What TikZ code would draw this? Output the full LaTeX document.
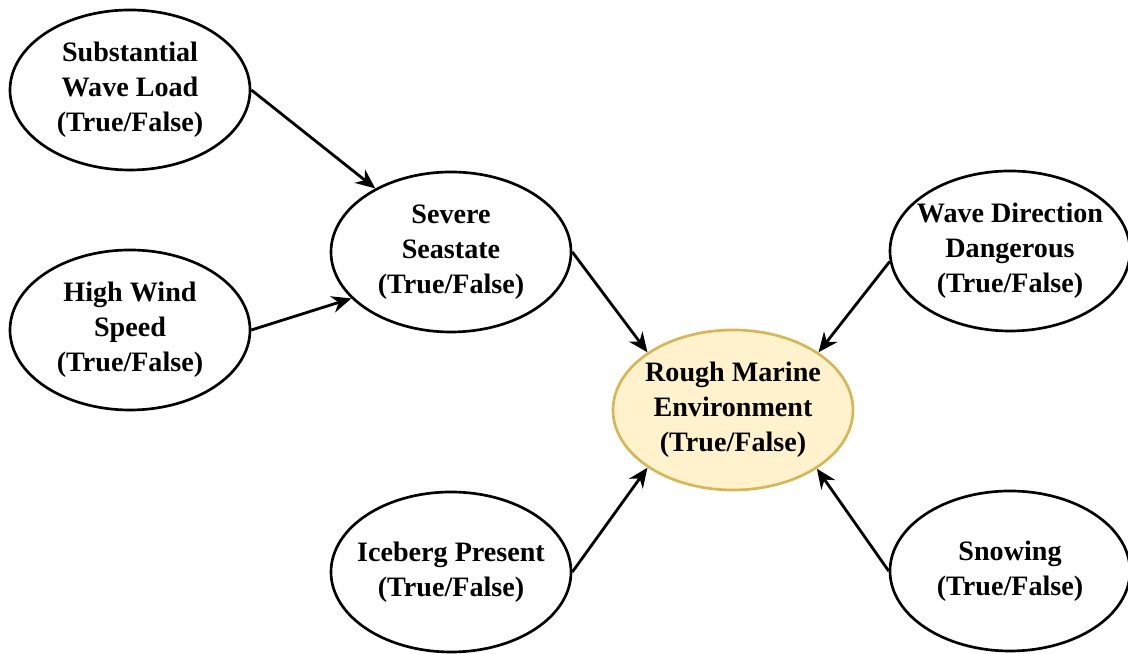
\documentclass[tikz,border=0pt]{standalone}
\usepackage{fontspec}
\setmainfont{Liberation Serif}
\usetikzlibrary{shapes.geometric,arrows.meta}

\definecolor{noteFill}{HTML}{FFF2CC}
\definecolor{noteLine}{HTML}{D6B656}

\begin{document}
\begin{tikzpicture}[
    cause/.style={ellipse, draw=black, line width=1.9pt, fill=white,
        minimum width=6cm, minimum height=4cm, inner xsep=-0.5cm, inner ysep=0pt,
        align=center, font=\fontsize{20}{25}\selectfont\bfseries},
    effect/.style={cause, fill=noteFill, draw=noteLine},
    link/.style={line width=2pt, -{Stealth[length=14pt,width=12pt]}}
]
   \useasboundingbox (0,0) rectangle (28.2,16.35);

   % Parent nodes
   \node[cause] (load) at (3.25,14.1) {Substantial\\Wave Load\\(True/False)};
   \node[cause] (wind) at (3.25,8.1) {High Wind\\Speed\\(True/False)};
   \node[cause] (sea) at (11.275,10.05) {Severe\\Seastate\\(True/False)};
   \node[cause] (dir) at (25.25,10.075) {Wave Direction\\Dangerous\\(True/False)};
   \node[cause] (ice) at (11.275,2.05) {Iceberg Present\\(True/False)};
   \node[cause] (snow) at (25.25,2.075) {Snowing\\(True/False)};

   % Target node
   \node[effect] (rough) at (18.325,6.1) {Rough Marine\\Environment\\(True/False)};

   % Draw links
   \draw[link] (load.east) -- (sea.140);
   \draw[link] (wind.east) -- (sea.205);
   \draw[link] (sea.east) -- (rough.146);
   \draw[link] (dir.185) -- (rough.34);
   \draw[link] (ice.east) -- (rough.214);
   \draw[link] (snow.west) -- (rough.-35);
\end{tikzpicture}
\end{document}
